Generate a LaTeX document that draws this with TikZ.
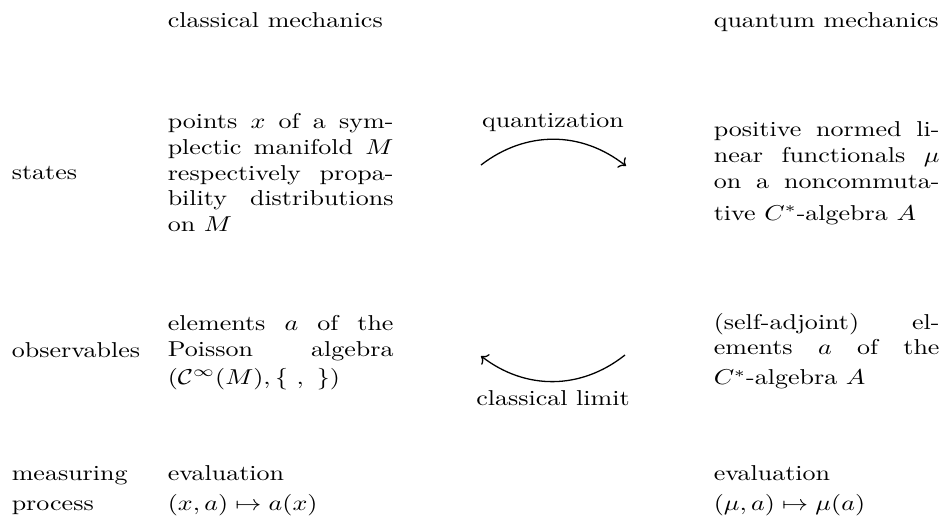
\documentclass[tikz,border=0pt]{standalone}
\usepackage{amsmath}
\usepackage{amssymb}
\usetikzlibrary{arrows.meta, positioning}
\tikzset{
    dictionary/.style={x=0.4651pt, y=-0.4651pt, >={To}, semithick},
    txt/.style={inner sep=0pt, anchor=base west, xscale=1.21},
    para/.style={txt, text width=3.05cm, align=justify,
        execute at begin node={\tolerance=10000\hbadness=10000}},
    cell/.style={txt, text width=3.05cm, align=left},
    arrowlabel/.style={inner sep=0pt, anchor=base, xscale=1.21},
}

\begin{document}
\begin{tikzpicture}[dictionary]
    \useasboundingbox (0,0) rectangle (944,519);

    % column heads
    \node[txt] (cm) at (167,27) {classical mechanics};
    \node[txt] (qm) at (713,27) {quantum mechanics};

    % states
    \node[txt]  (states)  at (11,179.5)  {states};
    \node[para] (cstates) at (167,128.5) {points $x$ of a sym-\linebreak plectic manifold $M$\linebreak respectively propa-\linebreak bility distributions\linebreak on $M$};
    \node[para] (qstates) at (713,136.5) {positive normed li-\linebreak near functionals $\mu$\linebreak on a noncommuta-\vspace{3pt}\linebreak tive $C^*$-algebra $A$};

    % observables
    \node[txt]  (obs)  at (11,357)    {observables};
    \node[para] (cobs) at (167,330.5) {elements $a$ of the\linebreak Poisson algebra\vspace{1pt}\linebreak $(\mathcal{C}^\infty(M),\{\ ,\ \})$};
    \node[para] (qobs) at (713,329)   {(self-adjoint) el-\linebreak ements $a$ of the\vspace{2pt}\linebreak $C^*$-algebra $A$};

    % measuring process
    \node[cell, text width=2cm] (meas) at (11,480.7) {measuring\\[2pt] process};
    \node[cell] (ceval) at (167,480.7) {evaluation\\[2pt] $(x,a)\mapsto a(x)$};
    \node[cell] (qeval) at (713,480.7) {evaluation\\[2pt] $(\mu,a)\mapsto \mu(a)$};

    % quantization
    \coordinate (q0) at (481,165);
    \coordinate (q1) at (626,166);
    \draw[->] (q0) to[bend left=38] (q1);
    \node[arrowlabel] (quant) at (553,127.3) {quantization};

    % classical limit
    \coordinate (c0) at (625,355);
    \coordinate (c1) at (481,356);
    \draw[->] (c0) to[bend left=38] (c1);
    \node[arrowlabel] (climit) at (553,405) {classical limit};
\end{tikzpicture}
\end{document}
